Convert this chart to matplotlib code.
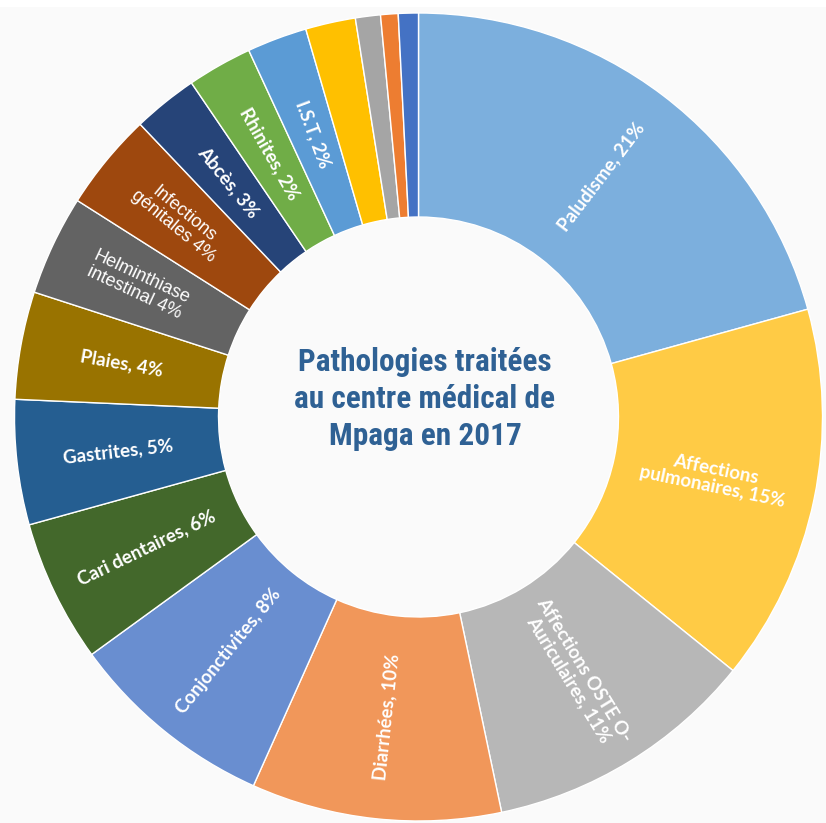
import numpy as np
import matplotlib
matplotlib.use("Agg")
import matplotlib.pyplot as plt
from matplotlib import font_manager
from matplotlib.patches import Rectangle

# pathologies, clockwise from the top (percent of cases)
categories = ["Paludisme", "Affections pulmonaires", "Affections OSTE O-Auriculaires",
              "Diarrhées", "Conjonctivites", "Cari dentaires", "Gastrites", "Plaies",
              "Helminthiase intestinal", "Infections génitales", "Abcès", "Rhinites",
              "I.S.T", "Autre 1", "Autre 2", "Autre 3", "Autre 4"]
values = [20.7, 15.1, 10.9, 10.0, 8.3, 5.7, 5.0, 4.3, 4.0, 3.9, 2.6, 2.6, 2.4, 2.0, 1.0, 0.7, 0.8]
labels = ["Paludisme, 21%", "Affections\npulmonaires, 15%", "Affections OSTE O-\nAuriculaires, 11%",
          "Diarrhées, 10%", "Conjonctivites, 8%", "Cari dentaires, 6%", "Gastrites, 5%",
          "Plaies, 4%", "Helminthiase\nintestinal 4%", "Infections\ngénitales 4%",
          "Abcès, 3%", "Rhinites, 2%", "I.S.T, 2%", "", "", "", ""]
colors = ["#7CAFDD", "#FFCB45", "#B7B7B7", "#F1975A", "#698ED0", "#43682B", "#255E91",
          "#997300", "#636363", "#9E480E", "#264478", "#70AD47", "#5B9BD5",
          "#FFC000", "#A5A5A5", "#ED7D31", "#4472C4"]
# the two labels drawn in a plain (Arial-like) face
plain = ["Helminthiase intestinal", "Infections génitales"]

title = "Pathologies traitées\nau centre médical de\nMpaga en 2017"

names = {f.name for f in font_manager.fontManager.ttflist}
label_font = "Lato" if "Lato" in names else "DejaVu Sans"
title_font = "DejaVu Sans"
for cand in ["Roboto Condensed", "Liberation Sans Narrow", "Open Sans Condensed"]:
    if cand in names:
        title_font = cand
        break

W, H = 826, 823
fig = plt.figure(figsize=(W / 100, H / 100), dpi=100)
fig.patch.set_facecolor("#FAFAFA")
fig.patches.append(Rectangle((0, 1 - 7 / H), 1, 7 / H, transform=fig.transFigure,
                             facecolor="white", edgecolor="none"))
ax = fig.add_axes([0, 0, 1, 1])

cx, cy = 418.5, H - 417
R = 404
ring = 0.505

wedges, _ = ax.pie(values, colors=colors, startangle=90, counterclock=False,
                   radius=R, center=(cx, cy),
                   wedgeprops=dict(width=R * ring, edgecolor="white", linewidth=1.0))
ax.set_xlim(0, W)
ax.set_ylim(0, H)
ax.set_aspect("auto")
ax.axis("off")

for w, lab, cat in zip(wedges, labels, categories):
    if not lab:
        continue
    mid = np.deg2rad((w.theta1 + w.theta2) / 2)
    r = R * (1 - ring / 2)
    if cat in plain:
        r += 8
    x = cx + r * np.cos(mid)
    y = cy + r * np.sin(mid)
    rot = np.rad2deg(mid)
    if np.cos(mid) < 0:
        rot += 180
    rot = (rot + 180) % 360 - 180
    if cat in plain:
        ax.text(x, y, lab, rotation=rot, rotation_mode="anchor", ha="center", va="center",
                color="white", fontsize=13, family="Liberation Sans", linespacing=1.0)
    else:
        ax.text(x, y, lab, rotation=rot, rotation_mode="anchor", ha="center", va="center",
                color="white", fontsize=13.5, fontweight="bold", family=label_font,
                linespacing=1.05)

ax.text(425, H - 399, title, ha="center", va="center", color="#2F6194",
        fontsize=22.5, family=title_font, fontweight="bold", linespacing=1.3)

fig.savefig("out.png", dpi=100, facecolor=fig.get_facecolor())
